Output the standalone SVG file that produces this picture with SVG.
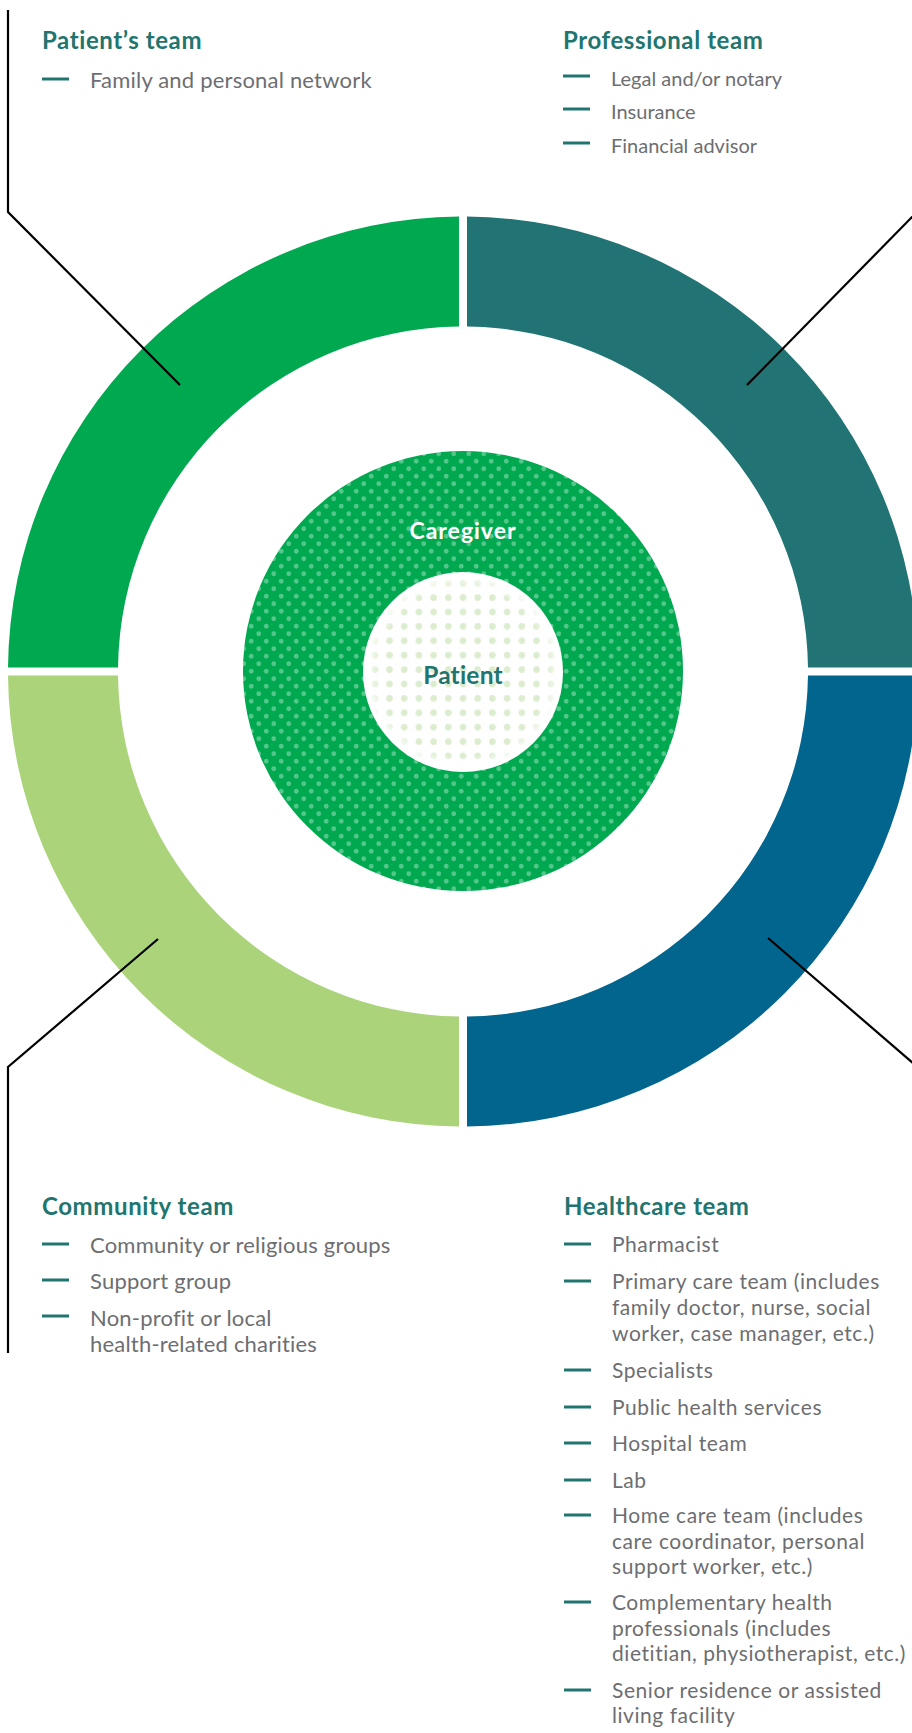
<svg xmlns="http://www.w3.org/2000/svg" width="912" height="1733" viewBox="0 0 912 1733">
<style>
.title{font-family:Lato,"Liberation Sans",sans-serif;font-weight:700;font-size:24px;letter-spacing:0.6px;fill:#21756f}
.item{font-family:Lato,"Liberation Sans",sans-serif;font-weight:400;fill:#6d6e71}
.lg{font-size:22px;letter-spacing:0.2px}
.md{font-size:21px;letter-spacing:0.55px}
.sm{font-size:20px}
.dash{stroke:#21756f;stroke-width:3}
.conn{stroke:#000;stroke-width:2.2;fill:none}
.center{font-family:Lato,"Liberation Sans",sans-serif;font-weight:700;text-anchor:middle}
</style>
<defs>
<pattern id="cgDots" patternUnits="userSpaceOnUse" width="15" height="15" x="0" y="0">
<rect width="15" height="15" fill="#00a94f"/>
<circle cx="3.75" cy="3.75" r="2.4" fill="#52c789"/>
<circle cx="11.25" cy="11.25" r="2.4" fill="#52c789"/>
</pattern>
<pattern id="ptDots" patternUnits="userSpaceOnUse" width="14.7" height="14.4" x="0" y="0">
<circle cx="7.3" cy="7.2" r="3.3" fill="#dcedcf"/>
</pattern>
<radialGradient id="fade" cx="463" cy="672" r="98" gradientUnits="userSpaceOnUse">
<stop offset="0.86" stop-color="#fff"/>
<stop offset="1" stop-color="#000"/>
</radialGradient>
<mask id="ptMask" maskUnits="userSpaceOnUse" x="360" y="570" width="206" height="206">
<circle cx="463" cy="672" r="98" fill="url(#fade)"/>
</mask>
</defs>

<g id="ring-patients-team"><path d="M459,216.52 A455,455 0 0 0 8.02,667.5 L118.02,667.5 A345,345 0 0 1 459,326.52 Z" fill="#00a94f"/></g>
<g id="ring-professional-team"><path d="M467,216.52 A455,455 0 0 1 917.98,667.5 L807.98,667.5 A345,345 0 0 0 467,326.52 Z" fill="#217473"/></g>
<g id="ring-healthcare-team"><path d="M917.98,675.5 A455,455 0 0 1 467,1126.48 L467,1016.48 A345,345 0 0 0 807.98,675.5 Z" fill="#02658e"/></g>
<g id="ring-community-team"><path d="M459,1126.48 A455,455 0 0 1 8.02,675.5 L118.02,675.5 A345,345 0 0 0 459,1016.48 Z" fill="#aad37a"/></g>

<g id="caregiver">
<circle cx="463" cy="671" r="220" fill="url(#cgDots)"/>
<text class="center" x="463" y="539" font-size="23" letter-spacing="1" fill="#ffffff">Caregiver</text>
</g>
<g id="patient">
<circle cx="463" cy="672" r="100" fill="#ffffff"/>
<rect x="360" y="570" width="206" height="206" fill="url(#ptDots)" mask="url(#ptMask)"/>
<text class="center" x="463" y="684" font-size="24.5" letter-spacing="0.2" fill="#21756f">Patient</text>
</g>

<g id="connectors">
<polyline class="conn" points="8,10 8,212 180,385"/>
<polyline class="conn" points="915,214 747,385"/>
<polyline class="conn" points="158,939 8,1067 8,1353"/>
<polyline class="conn" points="768,938 914,1064"/>
</g>

<g id="patients-team-label">
<text class="title" x="42" y="49">Patient’s team</text>
<line class="dash" x1="42" y1="79" x2="69" y2="79"/>
<text class="item lg" x="90" y="88">Family and personal network</text>
</g>

<g id="professional-team-label">
<text class="title" x="563" y="49">Professional team</text>
<line class="dash" x1="563" y1="76" x2="590" y2="76"/>
<text class="item sm" x="611" y="86">Legal and/or notary</text>
<line class="dash" x1="563" y1="109" x2="590" y2="109"/>
<text class="item sm" x="611" y="119">Insurance</text>
<line class="dash" x1="563" y1="143" x2="590" y2="143"/>
<text class="item sm" x="611" y="153">Financial advisor</text>
</g>

<g id="community-team-label">
<text class="title" x="42" y="1215">Community team</text>
<line class="dash" x1="42" y1="1244" x2="69" y2="1244"/>
<text class="item lg" x="90" y="1253">Community or religious groups</text>
<line class="dash" x1="42" y1="1280" x2="69" y2="1280"/>
<text class="item lg" x="90" y="1289">Support group</text>
<line class="dash" x1="42" y1="1316" x2="69" y2="1316"/>
<text class="item lg" x="90" y="1326">Non-profit or local</text>
<text class="item lg" x="90" y="1352">health-related charities</text>
</g>

<g id="healthcare-team-label">
<text class="title" x="564" y="1215">Healthcare team</text>
<line class="dash" x1="564" y1="1244" x2="591" y2="1244"/>
<text class="item md" x="612" y="1252">Pharmacist</text>
<line class="dash" x1="564" y1="1281" x2="591" y2="1281"/>
<text class="item md" x="612" y="1289">Primary care team (includes</text>
<text class="item md" x="612" y="1315">family doctor, nurse, social</text>
<text class="item md" x="612" y="1340.5">worker, case manager, etc.)</text>
<line class="dash" x1="564" y1="1370" x2="591" y2="1370"/>
<text class="item md" x="612" y="1378">Specialists</text>
<line class="dash" x1="564" y1="1407" x2="591" y2="1407"/>
<text class="item md" x="612" y="1415">Public health services</text>
<line class="dash" x1="564" y1="1443" x2="591" y2="1443"/>
<text class="item md" x="612" y="1451">Hospital team</text>
<line class="dash" x1="564" y1="1480" x2="591" y2="1480"/>
<text class="item md" x="612" y="1488">Lab</text>
<line class="dash" x1="564" y1="1515" x2="591" y2="1515"/>
<text class="item md" x="612" y="1523">Home care team (includes</text>
<text class="item md" x="612" y="1548.5">care coordinator, personal</text>
<text class="item md" x="612" y="1574">support worker, etc.)</text>
<line class="dash" x1="564" y1="1602" x2="591" y2="1602"/>
<text class="item md" x="612" y="1610">Complementary health</text>
<text class="item md" x="612" y="1636">professionals (includes</text>
<text class="item md" x="612" y="1661">dietitian, physiotherapist, etc.)</text>
<line class="dash" x1="564" y1="1690" x2="591" y2="1690"/>
<text class="item md" x="612" y="1698">Senior residence or assisted</text>
<text class="item md" x="612" y="1723">living facility</text>
</g>
</svg>
